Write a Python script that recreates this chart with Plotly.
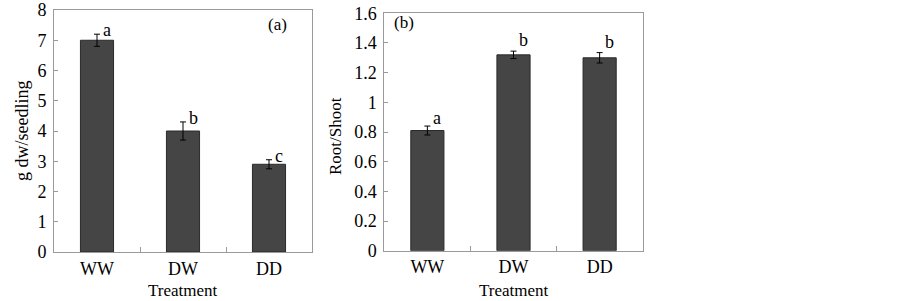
import plotly.graph_objects as go

categories = ["WW", "DW", "DD"]
biomass = [7.0, 4.0, 2.9]
biomass_err = [0.2, 0.3, 0.15]
biomass_letters = ["a", "b", "c"]
ratio = [0.81, 1.32, 1.30]
ratio_err = [0.03, 0.025, 0.035]
ratio_letters = ["a", "b", "b"]

FONT = "Liberation Serif, Times New Roman, serif"
BAR = "#454545"
AX = "#9a9a9a"
W, H = 903, 301

fig = go.Figure()
fig.add_trace(go.Bar(x=categories, y=biomass, width=0.385,
                     marker=dict(color=BAR, line=dict(color="#2a2a2a", width=1)),
                     error_y=dict(type="data", array=biomass_err, color="black",
                                  thickness=1, width=3),
                     xaxis="x", yaxis="y", showlegend=False))
fig.add_trace(go.Bar(x=categories, y=ratio, width=0.385,
                     marker=dict(color=BAR, line=dict(color="#2a2a2a", width=1)),
                     error_y=dict(type="data", array=ratio_err, color="black",
                                  thickness=1, width=3),
                     xaxis="x2", yaxis="y2", showlegend=False))

def px(x, y, text, size=17, angle=0):
    return dict(x=x / W, y=1 - y / H, xref="paper", yref="paper", text=text,
                showarrow=False, xanchor="center", yanchor="middle", textangle=angle,
                font=dict(size=size, color="black", family=FONT))

ann = []
for c, v, e, t in zip(categories, biomass, biomass_err, biomass_letters):
    ann.append(dict(x=c, y=v + e, xref="x", yref="y", text=t, showarrow=False,
                    xanchor="center", yanchor="middle",
                    xshift=10, yshift=4, font=dict(size=18, color="black", family=FONT)))
for c, v, e, t in zip(categories, ratio, ratio_err, ratio_letters):
    ann.append(dict(x=c, y=v + e, xref="x2", yref="y2", text=t, showarrow=False,
                    xanchor="center", yanchor="middle",
                    xshift=10, yshift=11 if v > 1 else 8,
                    font=dict(size=18, color="black", family=FONT)))
ann.append(px(277, 25, "(a)", 17))
ann.append(px(404, 23, "(b)", 17))
ann.append(px(22, 131, "g dw/seedling", 18, -90))
ann.append(px(335, 136, "Root/Shoot", 17, -90))
ann.append(px(183, 290, "Treatment", 17))
ann.append(px(513.5, 290, "Treatment", 17))

xcommon = dict(type="category", range=[-0.5, 2.5], showline=True, linecolor=AX,
               linewidth=1, mirror=True, ticks="inside", tickson="boundaries",
               ticklen=5, tickcolor=AX, tickfont=dict(size=18, color="black", family=FONT),
               showgrid=False, zeroline=False, automargin=False)
ycommon = dict(showline=True, linecolor=AX, linewidth=1, mirror=True, ticks="inside",
               ticklen=4, tickcolor=AX, tickfont=dict(size=18, color="black", family=FONT),
               showgrid=False, zeroline=False, automargin=False, ticklabelstandoff=3,
               ticklabeloverflow="allow")

fig.update_layout(
    width=W, height=H, margin=dict(l=0, r=0, t=0, b=0, autoexpand=False),
    paper_bgcolor="white", plot_bgcolor="white",
    font=dict(family=FONT, color="black"),
    annotations=ann,
    xaxis=dict(xcommon, domain=[54 / W, 312 / W], anchor="y"),
    yaxis=dict(ycommon, domain=[1 - 252 / H, 1 - 10 / H], range=[0, 8], dtick=1, anchor="x"),
    xaxis2=dict(xcommon, domain=[384.3 / W, 642.7 / W], anchor="y2"),
    yaxis2=dict(ycommon, domain=[1 - 250.7 / H, 1 - 13.3 / H], range=[0, 1.6], dtick=0.2,
                anchor="x2"),
)

fig.write_html("out.html", config={"displayModeBar": False},
               post_script="document.body.style.margin='0';document.body.style.overflow='hidden';")
